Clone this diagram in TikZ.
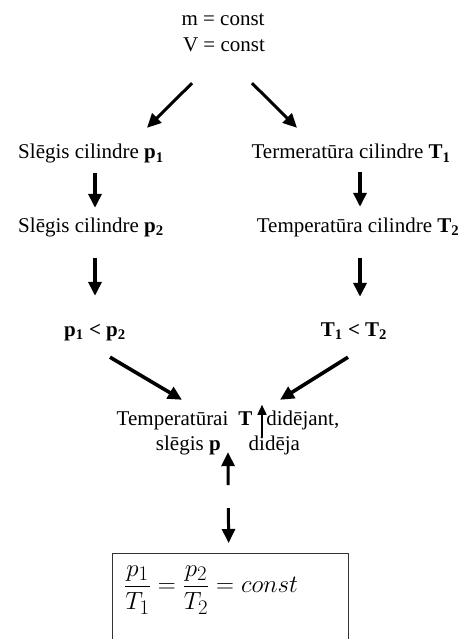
\documentclass[tikz,border=0pt]{standalone}
\usepackage{fontspec}
\setmainfont{Liberation Serif}
\usetikzlibrary{arrows.meta, calc}

\begin{document}
\begin{tikzpicture}[
    x=1pt, y=-1pt,
    txt/.style={inner sep=0pt, anchor=base, text height=15pt, text depth=5pt, font=\fontsize{21}{25}\selectfont},
    arr/.style={line width=3.6pt, -{Triangle[length=14pt,width=13pt]}},
    thinarr/.style={line width=1.6pt, -{Triangle[length=10pt,width=9pt]}},
    frame/.style={draw=black!80, line width=1.4pt, minimum width=236pt, minimum height=90pt, inner sep=0pt, anchor=north west}
]
\useasboundingbox (0,0) rectangle (467,639);
\node (condm) [txt] at (223,26) {m = const};
\node (condv) [txt] at (224,52) {V = const};
\node (sp1) [txt] at (91,159) {Slēgis cilindre \textbf{p\textsubscript{1}}};
\node (tp1) [txt] at (351,159) {Termeratūra cilindre \textbf{T\textsubscript{1}}};
\node (sp2) [txt] at (91,232) {Slēgis cilindre \textbf{p\textsubscript{2}}};
\node (tp2) [txt] at (358,232) {Temperatūra cilindre \textbf{T\textsubscript{2}}};
\node (pcmp) [txt] at (95,336) {\textbf{p\textsubscript{1} < p\textsubscript{2}}};
\node (tcmp) [txt] at (354,336) {\textbf{T\textsubscript{1} < T\textsubscript{2}}};
\node (res1) [txt] at (228,425) {Temperatūrai\hspace{10pt}\textbf{T}\hspace{14pt}didējant,};
\node (res2) [txt] at (228,450) {slēgis \textbf{p}\hspace{28pt}didēja};
\node (frame) [frame] at (112,553) {};
\node (eq) [anchor=west, inner sep=0pt, font=\fontsize{24.88}{30}\selectfont] at (124,590)
  {$\displaystyle\frac{p_1}{T_1}=\frac{p_2}{T_2}=const$};
% top split
\draw[arr, line width=3pt] ($(condv.south)+(-32,26)$) -- ($(sp1.north)+(56,-16)$);
\draw[arr, line width=3pt] ($(condv.south)+(28,26)$) -- ($(tp1.north)+(-54,-16)$);
% down the two columns
\draw[arr, shorten <=9pt, shorten >=9pt] ([xshift=4pt]sp1.south) -- ([xshift=4pt]sp2.north);
\draw[arr, shorten <=8pt, shorten >=10pt] ([xshift=9pt]tp1.south) -- ([xshift=2pt]tp2.north);
\draw[arr, shorten <=21pt, shorten >=25pt] ([xshift=4pt]sp2.south) -- (pcmp.north);
\draw[arr, shorten <=21pt, shorten >=24pt] ([xshift=2pt]tp2.south) -- ([xshift=6pt]tcmp.north);
% join
\draw[arr] ($(pcmp.south)+(15,16)$) -- ($(res1.north)+(-46,-10)$);
\draw[arr] ($(tcmp.south)+(-6,16)$) -- ($(res1.north)+(52,-10)$);
\draw[thinarr] ($(res2.north)+(34,2)$) -- ($(res1.north)+(34,-5)$);
\draw[arr, line width=3pt, shorten <=68pt, shorten >=-3pt] ([xshift=-2pt]frame.north) -- (res2.south);
\draw[arr, line width=3pt, shorten <=53pt, shorten >=10pt] (res2.south) -- ([xshift=-2pt]frame.north);
\end{tikzpicture}
\end{document}
